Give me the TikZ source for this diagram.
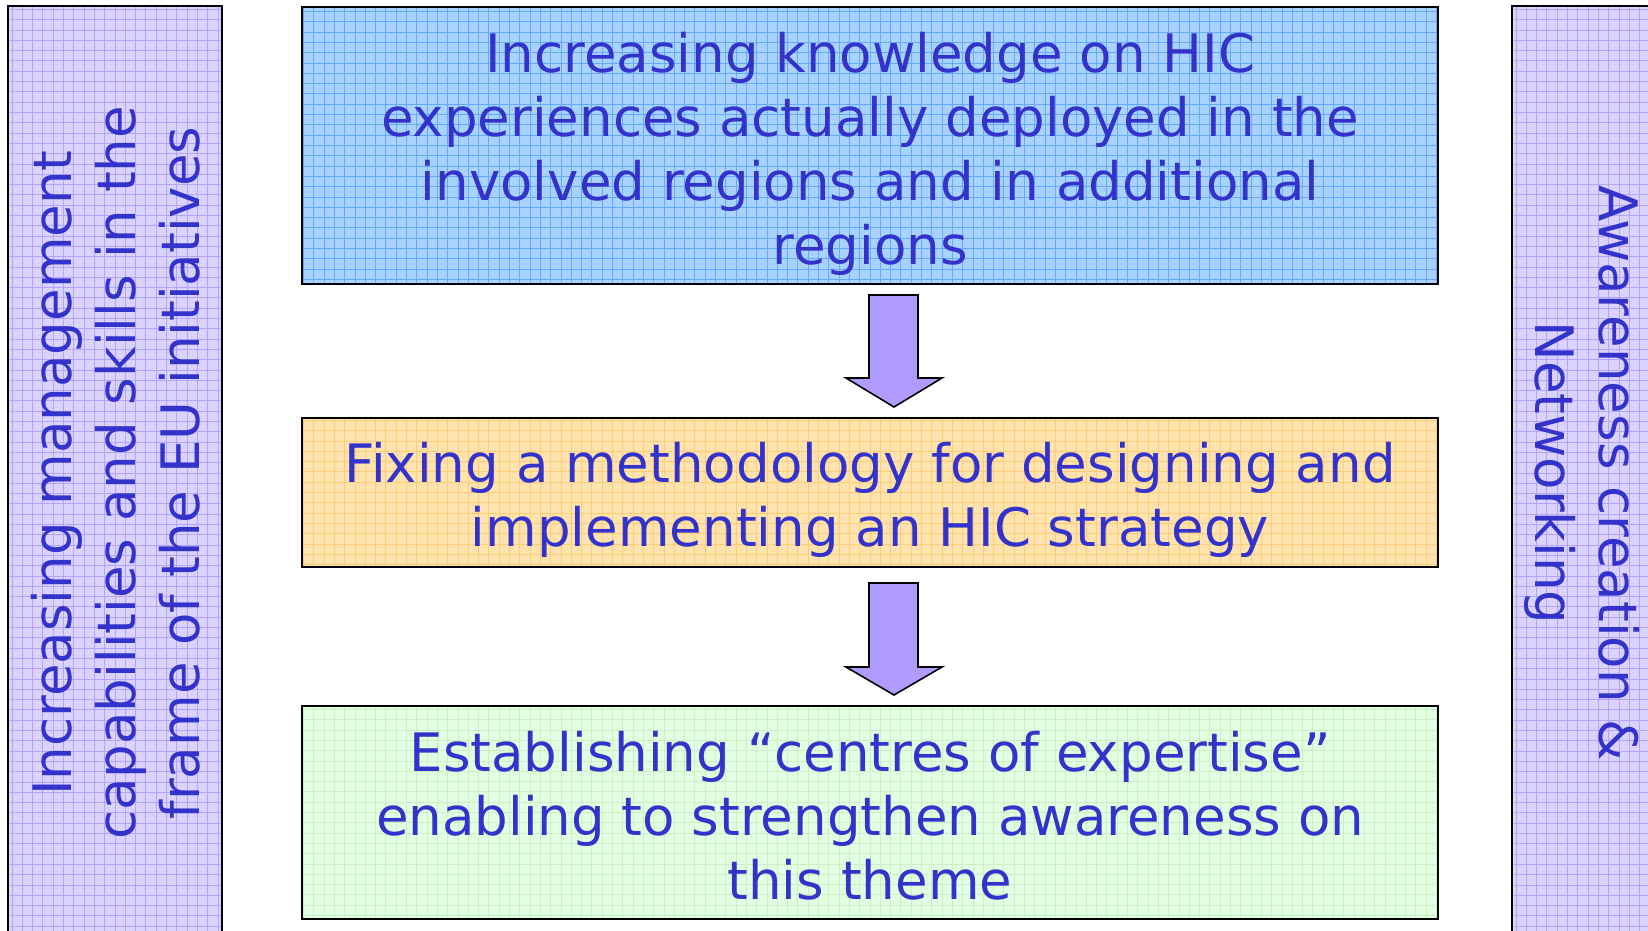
\documentclass[tikz,border=0pt]{standalone}
\usepackage{fontspec}
\setmainfont{DejaVu Sans}
\definecolor{txt}{HTML}{3333CC}
\definecolor{lavfill}{HTML}{DAD2FF}
\definecolor{lavline}{HTML}{B2A4FF}
\definecolor{bluefill}{HTML}{A8D2FF}
\definecolor{blueline}{HTML}{66AAFF}
\definecolor{orfill}{HTML}{FFE3AE}
\definecolor{orline}{HTML}{FFCC77}
\definecolor{grfill}{HTML}{E2FFE2}
\definecolor{grline}{HTML}{C6F2C6}
\definecolor{arrfill}{HTML}{B09CFF}
\begin{document}
\begin{tikzpicture}[x=0.5pt,y=-0.5pt,
  gridbox/.style n args={2}{draw=black, line width=1pt, fill=#1, inner sep=0pt,
    path picture={\draw[#2, line width=0.5pt] (path picture bounding box.south west) grid[step=5.15pt] (path picture bounding box.north east);}},
  boxtext/.style={text=txt, align=center, inner sep=0pt, font=\fontsize{26.5}{32}\selectfont},
  blockarrow/.style={draw=black, line width=0.8pt, fill=arrfill, line join=miter}]
\useasboundingbox (0,0) rectangle (1648,931);
\begin{scope}
\clip (0,0) rectangle (1648,931);
\node[gridbox={lavfill}{lavline}, minimum width=107pt, minimum height=467pt] (left) at (115,473) {};
\node[gridbox={lavfill}{lavline}, minimum width=107pt, minimum height=467pt] (right) at (1619,473) {};
\node[boxtext, rotate=90] (lefttext) at (116,473)
  {Increasing management\\capabilities and skills in the\\frame of the EU initiatives};
\node[boxtext, rotate=-90] (righttext) at (1582,473)
  {Awareness creation \&\\Networking};
\end{scope}
\node[gridbox={bluefill}{blueline}, minimum width=568pt, minimum height=138.5pt] (b1) at (870,145.5) {};
\node[boxtext] (t1) at (870,153.5)
  {Increasing knowledge on HIC\\experiences actually deployed in the\\involved regions and in additional\\regions};
\node[gridbox={orfill}{orline}, minimum width=568pt, minimum height=74.5pt] (b2) at (870,492.5) {};
\node[boxtext] (t2) at (870,500)
  {Fixing a methodology for designing and\\implementing an HIC strategy};
\node[gridbox={grfill}{grline}, minimum width=568pt, minimum height=106.5pt] (b3) at (870,812.5) {};
\node[boxtext] (t3) at (870,815.5)
  {Establishing “centres of expertise”\\enabling to strengthen awareness on\\this theme};
\draw[blockarrow] (869,295) -- (918,295) -- (918,378) -- (942,378) -- (894,407) -- (846,378) -- (869,378) -- cycle;
\draw[blockarrow] (869,583) -- (918,583) -- (918,667) -- (942,667) -- (894,695) -- (846,667) -- (869,667) -- cycle;
\end{tikzpicture}
\end{document}
